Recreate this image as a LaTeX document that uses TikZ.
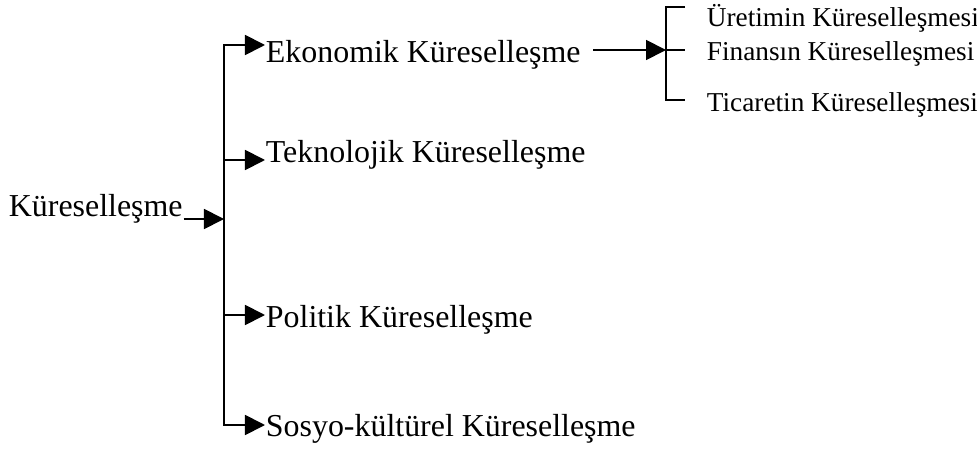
\documentclass[tikz,border=0pt]{standalone}
\usepackage{fontspec}
\setmainfont{Liberation Serif}
\usetikzlibrary{arrows.meta}
\begin{document}
\begin{tikzpicture}[x=0.025cm,y=-0.025cm,line width=1.3pt,
  arr/.style={-{Triangle[length=0.5cm,width=0.5cm]}},
  big/.style={anchor=base west,inner sep=0pt,font=\fontsize{22.7}{27}\selectfont},
  small/.style={anchor=base west,inner sep=0pt,font=\fontsize{19.4}{23}\selectfont}]
\useasboundingbox (0,0) rectangle (977,452);

\node[big] (kur) at (8,217) {Küreselleşme};
\node[big] (eko) at (265,63) {Ekonomik Küreselleşme};
\node[big] (tek) at (265,163) {Teknolojik Küreselleşme};
\node[big] (pol) at (265,327) {Politik Küreselleşme};
\node[big] (sos) at (265,436) {Sosyo-kültürel Küreselleşme};
\node[small] (ure) at (706,27) {Üretimin Küreselleşmesi};
\node[small] (fin) at (706,61) {Finansın Küreselleşmesi};
\node[small] (tic) at (706,112) {Ticaretin Küreselleşmesi};

% ana kol
\coordinate (s1) at (224,45);
\coordinate (s2) at (224,160);
\coordinate (s3) at (224,315);
\coordinate (s4) at (224,425);
\coordinate (sm) at (224,219);
\draw[line cap=rect] (s1) -- (s4);
\draw[arr] (kur.east |- sm) -- (sm);
\foreach \s/\n in {s1/eko,s2/tek,s3/pol,s4/sos}
  \draw[arr] (\s) -- (\s -| \n.west);

% ekonomik alt kollar
\coordinate (e0) at (593,50);
\coordinate (b1) at (666,7);
\coordinate (b2) at (666,50);
\coordinate (b3) at (666,100);
\coordinate (t1) at (685,7);
\coordinate (t2) at (685,50);
\coordinate (t3) at (685,100);
\draw[arr] (e0) -- (b2);
\draw (t1) -- (b1) -- (b3) -- (t3);
\draw (b2) -- (t2);
\end{tikzpicture}
\end{document}
